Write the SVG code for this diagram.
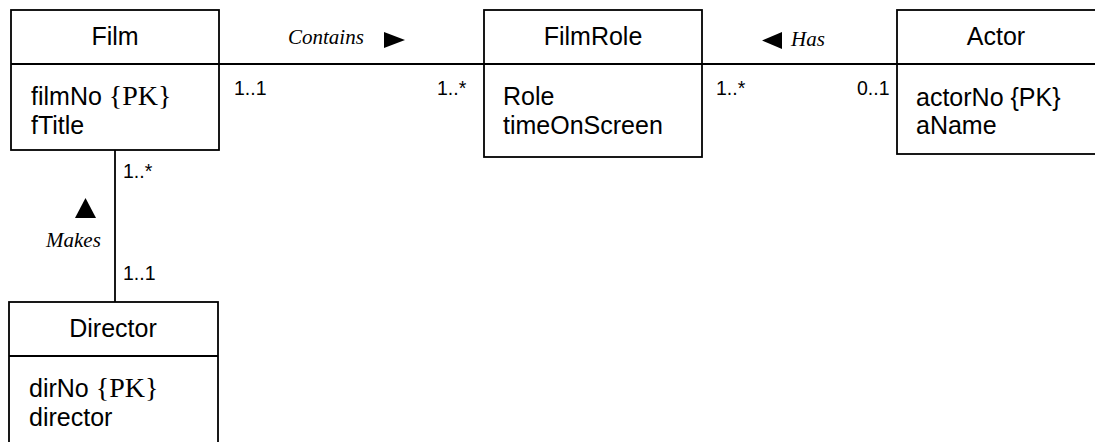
<svg xmlns="http://www.w3.org/2000/svg" width="1095" height="442" viewBox="0 0 1095 442">
<style>
.box{fill:#fff;stroke:#000;stroke-width:1.8}
.ln{stroke:#000;stroke-width:1.8;fill:none}
.t{font-family:"Liberation Sans",Arial,sans-serif;font-size:25px;fill:#000}
.c{text-anchor:middle}
.s{font-family:"Liberation Serif","Times New Roman",serif;font-size:28px}
.i{font-family:"Liberation Serif","Times New Roman",serif;font-style:italic;font-size:21px;fill:#000}
.m{font-family:"Liberation Sans",Arial,sans-serif;font-size:19.5px;fill:#000}
</style>
<rect width="1095" height="442" fill="#fff"/>
<g id="connectors">
<line class="ln" x1="219" y1="64" x2="484" y2="64"/>
<line class="ln" x1="702" y1="64" x2="897" y2="64"/>
<line class="ln" x1="115" y1="150" x2="115" y2="302"/>
<text class="i" x="288" y="44">Contains</text>
<polygon points="384,32 405,40 384,48" fill="#000"/>
<text class="m" x="234" y="95">1..1</text>
<text class="m" x="437" y="95">1..*</text>
<polygon points="782,32 762,40.5 782,49" fill="#000"/>
<text class="i" x="791" y="46">Has</text>
<text class="m" x="716" y="95">1..*</text>
<text class="m" x="857" y="95">0..1</text>
<text class="m" x="123" y="178">1..*</text>
<polygon points="85.5,198 96,218 75,218" fill="#000"/>
<text class="i" x="46" y="247">Makes</text>
<text class="m" x="123" y="280">1..1</text>
</g>
<g id="film">
<rect class="box" x="11" y="10" width="208" height="140"/>
<line class="ln" x1="11" y1="64" x2="219" y2="64"/>
<text class="t c" x="115" y="45">Film</text>
<text class="t" x="31" y="105">filmNo <tspan class="s">{PK}</tspan></text>
<text class="t" x="31" y="134">fTitle</text>
</g>
<g id="filmrole">
<rect class="box" x="484" y="10" width="218" height="147"/>
<line class="ln" x1="484" y1="64" x2="702" y2="64"/>
<text class="t c" x="593" y="45">FilmRole</text>
<text class="t" x="503" y="105">Role</text>
<text class="t" x="503" y="134">timeOnScreen</text>
</g>
<g id="actor">
<rect class="box" x="897" y="10" width="210" height="144"/>
<line class="ln" x1="897" y1="64" x2="1095" y2="64"/>
<text class="t c" x="996" y="45">Actor</text>
<text class="t" x="916" y="106">actorNo {PK}</text>
<text class="t" x="916" y="134">aName</text>
</g>
<g id="director">
<rect class="box" x="9" y="302" width="209" height="150"/>
<line class="ln" x1="9" y1="356" x2="218" y2="356"/>
<text class="t c" x="113" y="337">Director</text>
<text class="t" x="29" y="397">dirNo <tspan class="s">{PK}</tspan></text>
<text class="t" x="29" y="426">director</text>
</g>
</svg>
